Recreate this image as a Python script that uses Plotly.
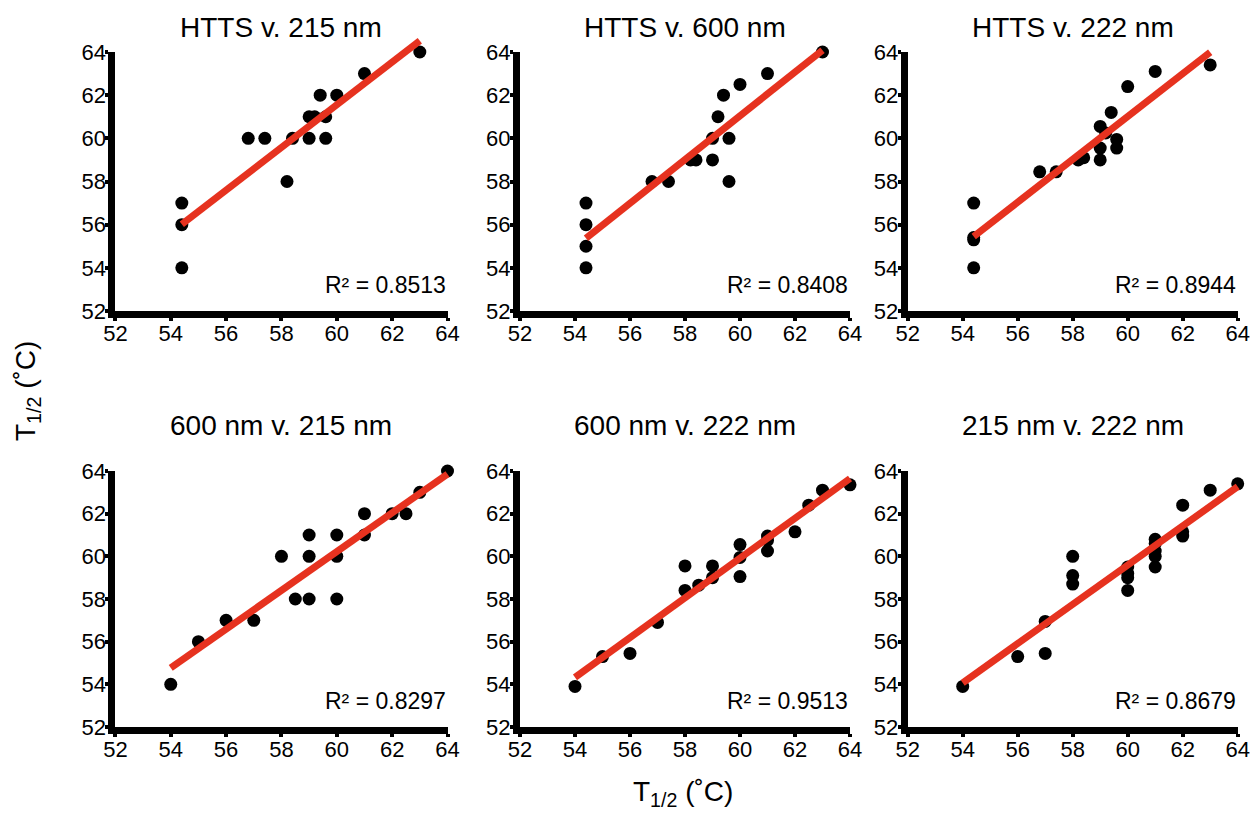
import numpy as np
import plotly.graph_objects as go

# ---------------- data ----------------
titles = ["HTTS v. 215 nm", "HTTS v. 600 nm", "HTTS v. 222 nm",
          "600 nm v. 215 nm", "600 nm v. 222 nm", "215 nm v. 222 nm"]
r2_labels = ["R² = 0.8513", "R² = 0.8408", "R² = 0.8944",
             "R² = 0.8297", "R² = 0.9513", "R² = 0.8679"]
tick_vals = [52, 54, 56, 58, 60, 62, 64]

p1_x = [54.4, 54.4, 54.4, 56.8, 57.4, 58.2, 58.4, 59.0, 59.6, 59.0, 59.2, 59.6, 59.4, 60.0, 61.0, 63.0]
p1_y = [57, 56, 54, 60, 60, 58, 60, 60, 60, 61, 61, 61, 62, 62, 63, 64]

p2_x = [54.4, 54.4, 54.4, 54.4, 56.8, 57.4, 58.2, 58.4, 59.0, 59.0, 59.6, 59.6, 59.2, 59.4, 60.0, 61.0, 63.0]
p2_y = [57, 56, 55, 54, 58, 58, 59, 59, 59, 60, 60, 58, 61, 62, 62.5, 63, 64]

p3_x = [54.4, 54.4, 54.4, 54.4, 56.8, 57.4, 58.2, 58.4, 59.0, 59.0, 59.0, 59.2, 59.6, 59.6, 59.4, 60.0, 61.0, 63.0]
p3_y = [57, 55.4, 55.3, 54, 58.45, 58.45, 59.0, 59.1, 59.0, 59.55, 60.55, 60.25, 59.95, 59.55, 61.2, 62.4, 63.1, 63.4]

p4_x = [54, 55, 56, 57, 58, 58.5, 59, 59, 59, 60, 60, 60, 61, 61, 62, 62.5, 63, 64]
p4_y = [54, 56, 57, 57, 60, 58, 58, 60, 61, 58, 60, 61, 61, 62, 62, 62, 63, 64]

p5_x = [54, 55, 56, 57, 58, 58, 58.5, 59, 59, 60, 60, 60, 61, 61, 61, 62, 62.5, 63, 64]
p5_y = [53.9, 55.3, 55.45, 56.9, 58.4, 59.55, 58.65, 59.0, 59.55, 59.05, 59.95, 60.55, 60.25, 60.95, 60.75, 61.15, 62.4, 63.1, 63.35]

p6_x = [54, 56, 57, 57, 58, 58, 58, 60, 60, 60, 60, 61, 61, 61, 61, 61, 62, 62, 62, 63, 64]
p6_y = [53.9, 55.3, 55.45, 56.95, 60, 59.1, 58.7, 58.4, 59.0, 59.2, 59.5, 59.5, 60, 60.25, 60.6, 60.8, 62.4, 61.15, 60.95, 63.1, 63.4]

xs = [p1_x, p2_x, p3_x, p4_x, p5_x, p6_x]
ys = [p1_y, p2_y, p3_y, p4_y, p5_y, p6_y]

# ---------------- layout ----------------
W, H = 1258, 814
FONT = "Liberation Sans, Arial, sans-serif"
AX_MIN, AX_MAX = 52, 64
col_px = [(115.4, 447.5), (520.0, 850.0), (907.7, 1237.7)]
row_px = [(52.0, 311.0), (471.0, 727.0)]
title_y_px = [27, 425]
EXT = 16  # px: invisible overlay axes for the fit lines, so they are not clipped at 64

fig = go.Figure()
annotations = []
for i in range(6):
    r, c = divmod(i, 3)
    suf = "" if i == 0 else str(i + 1)
    xa, ya = "x" + suf, "y" + suf
    lsuf = str(i + 7)
    lxa, lya = "x" + lsuf, "y" + lsuf
    x0, x1 = col_px[c]
    t0, t1 = row_px[r]

    fig.add_trace(go.Scatter(x=xs[i], y=ys[i], mode="markers",
                             marker=dict(color="black", size=13),
                             xaxis=xa, yaxis=ya, showlegend=False,
                             cliponaxis=False, hoverinfo="skip"))
    m, b = np.polyfit(xs[i], ys[i], 1)
    lx = [min(xs[i]), max(xs[i])]
    fig.add_trace(go.Scatter(x=lx, y=[m * v + b for v in lx], mode="lines",
                             line=dict(color="#e6321f", width=7),
                             xaxis=lxa, yaxis=lya, showlegend=False,
                             hoverinfo="skip"))

    common = dict(range=[AX_MIN, AX_MAX], tickvals=tick_vals, showline=True, linewidth=7,
                  linecolor="black", ticks="outside", ticklen=3, tickwidth=4,
                  tickcolor="black", showgrid=False, zeroline=False,
                  tickfont=dict(size=22, color="black", family=FONT), fixedrange=True)
    fig.layout["xaxis" + suf] = dict(domain=[x0 / W, x1 / W], anchor=ya,
                                     ticklabelstandoff=-6, **common)
    fig.layout["yaxis" + suf] = dict(domain=[1 - t1 / H, 1 - t0 / H], anchor=xa,
                                     ticklabelstandoff=-5, **common)
    # overlay axes with identical scale but slightly larger extent
    sx = (x1 - x0) / (AX_MAX - AX_MIN)
    sy = (t1 - t0) / (AX_MAX - AX_MIN)
    fig.layout["xaxis" + lsuf] = dict(domain=[(x0 - EXT) / W, (x1 + EXT) / W], anchor=lya,
                                      range=[AX_MIN - EXT / sx, AX_MAX + EXT / sx],
                                      visible=False, fixedrange=True)
    fig.layout["yaxis" + lsuf] = dict(domain=[1 - (t1 + EXT) / H, 1 - (t0 - EXT) / H], anchor=lxa,
                                      range=[AX_MIN - EXT / sy, AX_MAX + EXT / sy],
                                      visible=False, fixedrange=True)

    annotations.append(dict(text=titles[i], xref="paper", yref="paper",
                            x=(x0 + x1) / 2 / W, y=1 - title_y_px[r] / H,
                            xanchor="center", yanchor="middle", showarrow=False,
                            font=dict(size=28, color="black", family=FONT)))
    annotations.append(dict(text=r2_labels[i], xref=xa + " domain", yref=ya + " domain",
                            x=1.0, y=0.1, xanchor="right", yanchor="middle",
                            showarrow=False,
                            font=dict(size=23, color="black", family=FONT)))

annotations.append(dict(text="T<sub>1/2</sub> (˚C)", xref="paper", yref="paper",
                        x=27 / W, y=1 - 391 / H, textangle=-90, showarrow=False,
                        xanchor="center", yanchor="middle",
                        font=dict(size=28, color="black", family=FONT)))
annotations.append(dict(text="T<sub>1/2</sub> (˚C)", xref="paper", yref="paper",
                        x=683 / W, y=1 - 793 / H, showarrow=False,
                        xanchor="center", yanchor="middle",
                        font=dict(size=28, color="black", family=FONT)))

fig.update_layout(width=W, height=H,
                  margin=dict(l=0, r=0, t=0, b=0, pad=0, autoexpand=False),
                  paper_bgcolor="white", plot_bgcolor="rgba(0,0,0,0)",
                  annotations=annotations, showlegend=False)

fig.write_html("out.html", config={"displayModeBar": False},
               post_script="document.body.style.margin='0';document.body.style.overflow='hidden';")
